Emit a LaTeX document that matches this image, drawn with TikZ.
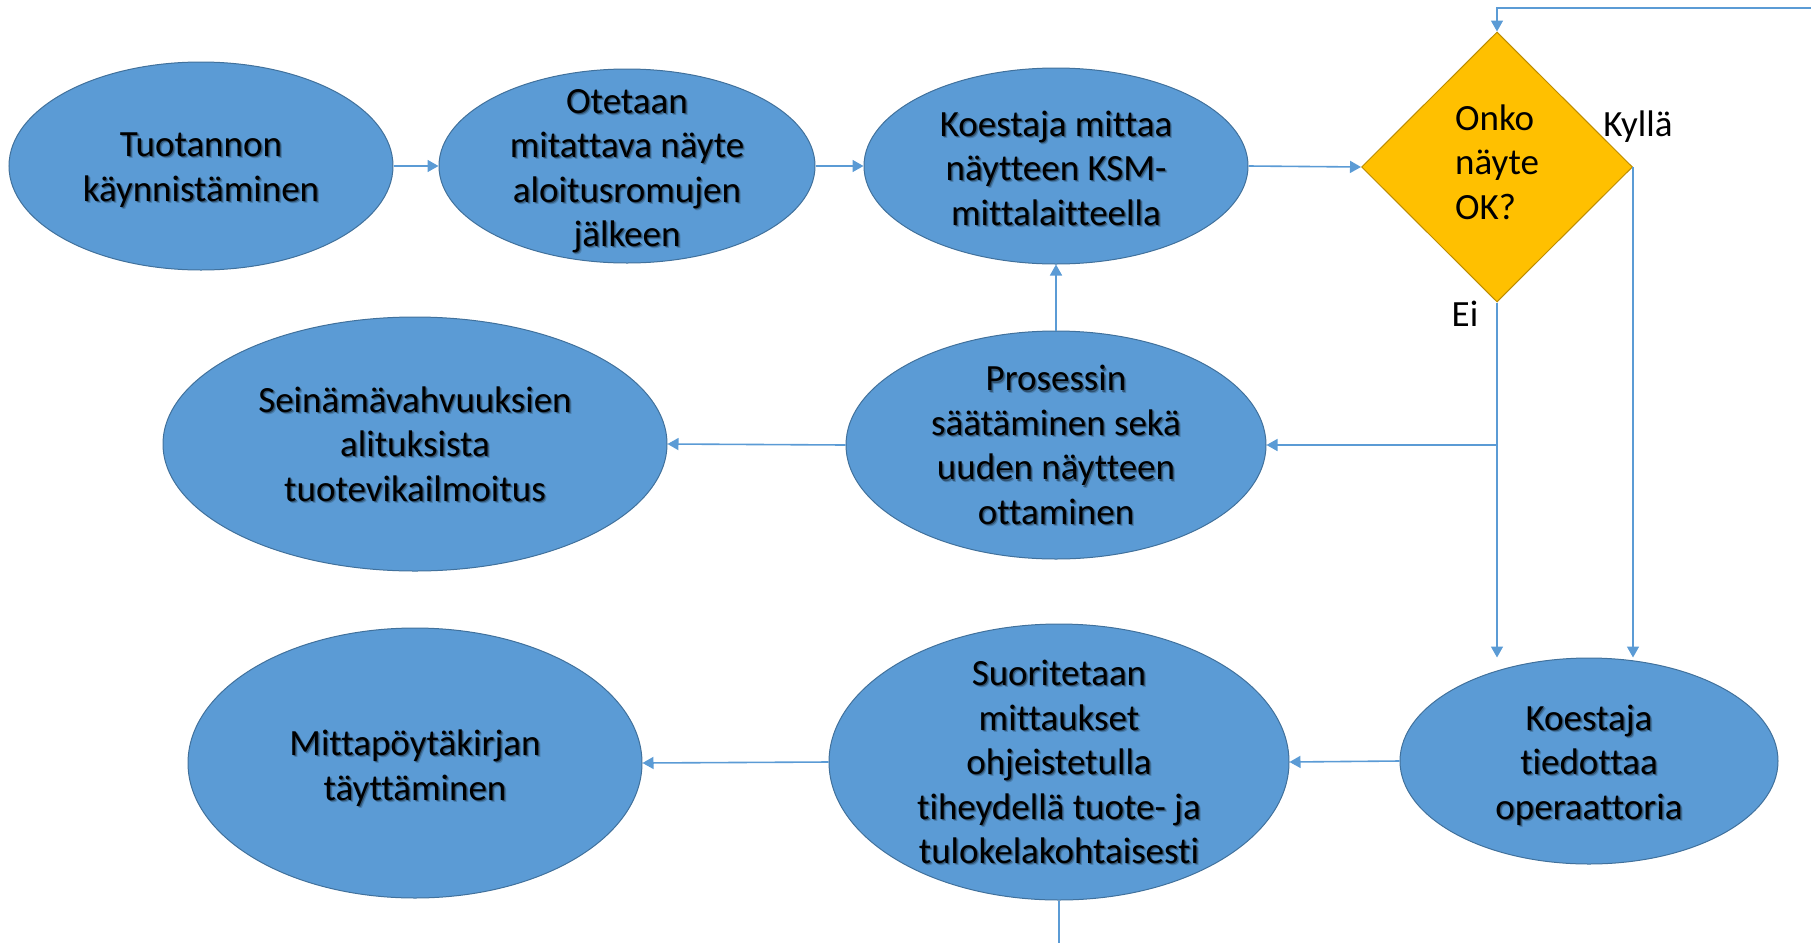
\documentclass[tikz,border=0pt]{standalone}
\usepackage{fontspec}
\setmainfont{Carlito}[Ligatures=NoCommon]
\usetikzlibrary{shapes.geometric,arrows.meta}

\definecolor{procfill}{HTML}{5B9BD5}
\definecolor{procline}{HTML}{41719C}
\definecolor{decfill}{HTML}{FFC000}
\definecolor{decline}{HTML}{BC8C00}
\definecolor{flow}{HTML}{5B9BD5}

% caption of a process step, set with a soft drop shadow
\newcommand\steptext[2]{%
  \node[txt, text opacity=0.18, xshift=1.1pt, yshift=-1.1pt] at (#1) {#2};
  \node[txt, text opacity=0.35, xshift=0.6pt, yshift=-0.6pt] at (#1) {#2};
  \node[txt] at (#1) {#2};}

\begin{document}
\begin{tikzpicture}[
  x=0.5pt, y=-0.5pt,
  every node/.style={font=\fontsize{18.5}{22.25}\selectfont, text=black},
  txt/.style={align=center, inner sep=0pt},
  proc/.style={ellipse, fill=procfill, draw=procline, line width=0.5pt,
               inner sep=0pt},
  decision/.style={diamond, fill=decfill, draw=decline, line width=0.5pt,
                   inner sep=0pt,
                   minimum width=135.5pt, minimum height=135pt},
  link/.style={draw=flow, line width=0.8pt},
  arrow/.style={link, -{Triangle[width=6pt,length=5.5pt]}}
]
\useasboundingbox (0,0) rectangle (1811,943);

% process steps (shapes)
\node[proc, minimum width=192pt, minimum height=104pt] (start) at (201,166) {};
\node[proc, minimum width=188pt, minimum height=97pt] (sample) at (627,166) {};
\node[proc, minimum width=192pt, minimum height=98pt] (measure) at (1056,166) {};
\node[decision] (ok) at (1497,167) {};
\node[proc, minimum width=252pt, minimum height=127pt] (report) at (415,444) {};
\node[proc, minimum width=210pt, minimum height=114pt] (adjust) at (1056,445) {};
\node[proc, minimum width=227pt, minimum height=135pt] (protocol) at (415,763) {};
\node[proc, minimum width=230pt, minimum height=138pt] (run) at (1059,762) {};
\node[proc, minimum width=189pt, minimum height=103pt] (inform) at (1589,761) {};

% process steps (captions)
\steptext{201,170}{Tuotannon\\käynnistäminen}
\steptext{627,171}{Otetaan\\mitattava näyte\\aloitusromujen\\jälkeen}
\steptext{1056,168}{Koestaja mittaa\\näytteen KSM-\\mittalaitteella}
\steptext{415,444}{Seinämävahvuuksien\\alituksista\\tuotevikailmoitus}
\steptext{1056,445}{Prosessin\\säätäminen sekä\\uuden näytteen\\ottaminen}
\steptext{415,768}{Mittapöytäkirjan\\täyttäminen}
\steptext{1059,762}{Suoritetaan\\mittaukset\\ohjeistetulla\\tiheydellä tuote- ja\\tulokelakohtaisesti}
\steptext{1589,765}{Koestaja\\tiedottaa\\operaattoria}

% decision caption and branch labels
\node[txt, align=left] (question) at (1497,162) {Onko\\näyte\\OK?};
\node (yes) at (1638,127) {Kyllä};
\node (no) at (1465,314) {Ei};

% free ends of the connectors leaving the picture
\coordinate (loopin) at (1811,8);
\coordinate (down) at (1059,943);

% top row
\draw[arrow] (start.east) -- (sample.west);
\draw[arrow] (sample.east) -- (measure.west);
\draw[arrow] (measure.east) -- (ok.west);
\draw[arrow] (loopin) -- (ok.north |- loopin) -- (ok.north);

% decision outcomes
\draw[arrow] (ok.south) -- (ok.south |- inform.north);
\draw[arrow] (ok.south |- adjust.east) -- (adjust.east);
\draw[arrow] (ok.east) -- (ok.east |- inform.north);

% middle row
\draw[arrow] (adjust.north) -- (measure.south);
\draw[arrow] (adjust.west) -- (report.east);

% bottom row
\draw[arrow] (inform.west) -- (run.east);
\draw[arrow] (run.west) -- (protocol.east);
\draw[link] (run.south) -- (down);
\end{tikzpicture}
\end{document}
